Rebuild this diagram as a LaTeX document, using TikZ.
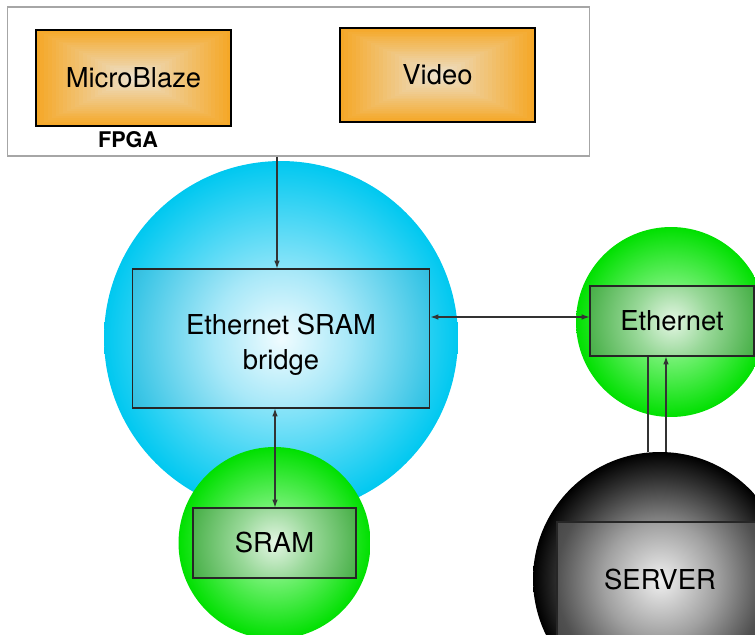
\documentclass[tikz,border=0pt]{standalone}
\usepackage{fontspec}
\setmainfont{TeX Gyre Heros}
\usetikzlibrary{arrows.meta,calc}
\definecolor{orEdge}{RGB}{245,168,40}
\definecolor{orCenter}{RGB}{236,226,208}
\definecolor{bsA}{HTML}{D8F6FF}\definecolor{bsB}{HTML}{80E2F8}\definecolor{bsC}{HTML}{00C8F0}
\definecolor{gsA}{HTML}{D0FFD0}\definecolor{gsB}{HTML}{70F070}\definecolor{gsC}{HTML}{00E000}
\definecolor{ssA}{HTML}{C0C0C0}\definecolor{ssB}{HTML}{808080}\definecolor{ssBB}{HTML}{303030}\definecolor{ssC}{HTML}{000000}
\definecolor{brA}{HTML}{F0FCFF}\definecolor{brB}{HTML}{A8E8F8}\definecolor{brC}{HTML}{3CC6E6}\definecolor{brD}{HTML}{30B8D8}
\definecolor{grA}{HTML}{E4F6E4}\definecolor{grB}{HTML}{98D898}\definecolor{grC}{HTML}{50B450}\definecolor{grD}{HTML}{46A846}
\definecolor{srA}{HTML}{F0F0F0}\definecolor{srB}{HTML}{A0A0A0}\definecolor{srC}{HTML}{505050}\definecolor{srD}{HTML}{404040}
% TikZ maps the central 50bp square of a shading onto the path: radius 25bp = path edge
\pgfdeclareradialshading{bluesph}{\pgfpoint{0bp}{0bp}}{color(0bp)=(bsA); color(11bp)=(bsB); color(25bp)=(bsC); color(50bp)=(bsC)}
\pgfdeclareradialshading{greensph}{\pgfpoint{0bp}{0bp}}{color(0bp)=(gsA); color(10bp)=(gsB); color(25bp)=(gsC); color(50bp)=(gsC)}
\pgfdeclareradialshading{serversph}{\pgfpoint{0bp}{0bp}}{color(0bp)=(ssA); color(12bp)=(ssB); color(20bp)=(ssBB); color(25bp)=(ssC); color(50bp)=(ssC)}
\pgfdeclareradialshading{bridgesh}{\pgfpoint{0bp}{0bp}}{color(0bp)=(brA); color(10bp)=(brB); color(22bp)=(brC); color(25bp)=(brD); color(50bp)=(brD)}
\pgfdeclareradialshading{greenrect}{\pgfpoint{0bp}{0bp}}{color(0bp)=(grA); color(10bp)=(grB); color(22bp)=(grC); color(25bp)=(grD); color(50bp)=(grD)}
\pgfdeclareradialshading{serverrect}{\pgfpoint{0bp}{0bp}}{color(0bp)=(srA); color(11bp)=(srB); color(20bp)=(srC); color(25bp)=(srD); color(50bp)=(srD)}
\begin{document}
\begin{tikzpicture}[x=0.02cm,y=-0.02cm,
  txt/.style={font=\fontsize{15.6}{19.8}\selectfont, inner sep=0pt},
  orbox/.style={draw=black, line width=0.6pt, minimum width=3.9cm, inner sep=0pt,
    font=\fontsize{15.6}{19.8}\selectfont,
    path picture={
      \foreach \i in {0,...,24}{
        \pgfmathtruncatemacro\p{\i*4}
        \fill[orCenter!\p!orEdge]
          ($(path picture bounding box.south west)!{\i/50}!(path picture bounding box.north east)$)
          rectangle
          ($(path picture bounding box.north east)!{\i/50}!(path picture bounding box.south west)$);
      }}},
  sph/.style={circle, inner sep=0pt, shade, shading=#1},
  rbox/.style 2 args={rectangle, draw=black!85, line width=0.6pt, inner sep=0pt,
    font=\fontsize{15.6}{19.8}\selectfont,
    path picture={\shade[shading=#1] (path picture bounding box.center) circle[radius=#2];}},
  arr/.style={draw=black!80, line width=0.6pt},
  tip/.tip={Latex[length=4.5pt,width=3.2pt]}]
\useasboundingbox (0,0) rectangle (755,635);
\fill[white] (0,0) rectangle (755,635);
\clip (0,0) rectangle (755,635);

% FPGA block
\node[draw=gray!70, line width=0.6pt, minimum width=11.66cm, minimum height=2.98cm, inner sep=0pt] (fpga) at (298.5,81.5) {};
\node[orbox, minimum height=1.92cm] (mb) at (133.5,78) {MicroBlaze};
\node[orbox, minimum height=1.88cm] (video) at (437.5,75) {Video};
\node[font=\fontsize{12.3}{14}\selectfont\bfseries, inner sep=0pt] (fpgalabel) at (128,140) {FPGA};

% spheres
\node[sph=bluesph, minimum size=7.08cm] (bluec) at (281,338) {};
\node[sph=greensph, minimum size=3.84cm] (sramc) at (274.5,543) {};
\node[sph=greensph, minimum size=3.8cm] (ethc) at (671,322) {};

% connectors between Ethernet and server (under the server sphere)
\coordinate (c3) at (648,0);
\coordinate (c4) at (666,0);
\node[sph=serversph, minimum size=5.08cm] (serverc) at (660,579) {};

% boxes
\node[rbox={bridgesh}{3.4cm}, minimum width=5.96cm, minimum height=2.78cm] (bridge) at (281,338.5) {};
\node[txt, align=center] (bridgelabel) at ([yshift=-0.12cm]bridge.center) {Ethernet SRAM\\bridge};
\node[rbox={greenrect}{1.85cm}, minimum width=3.28cm, minimum height=1.4cm] (eth) at (672,321) {Ethernet};
\node[rbox={greenrect}{1.85cm}, minimum width=3.26cm, minimum height=1.4cm] (sram) at (274.5,543) {SRAM};
\node[rbox={serverrect}{2.6cm}, minimum width=4.12cm, minimum height=2.32cm] (server) at (660,580) {SERVER};

% connectors
\coordinate (c1) at (277,0);
\draw[arr, -tip] (fpga.south -| c1) -- (bridge.north -| c1);
\coordinate (h) at (0,317);
\draw[arr, tip-tip] (bridge.east |- h) -- (eth.west |- h);
\coordinate (c2) at (275,0);
\draw[arr, tip-tip] (bridge.south -| c2) -- (sram.north -| c2);
\draw[arr] (eth.south -| c3) -- (serverc.north -| c3);
\draw[arr, -tip] (serverc.north -| c4) -- (eth.south -| c4);
\end{tikzpicture}
\end{document}
